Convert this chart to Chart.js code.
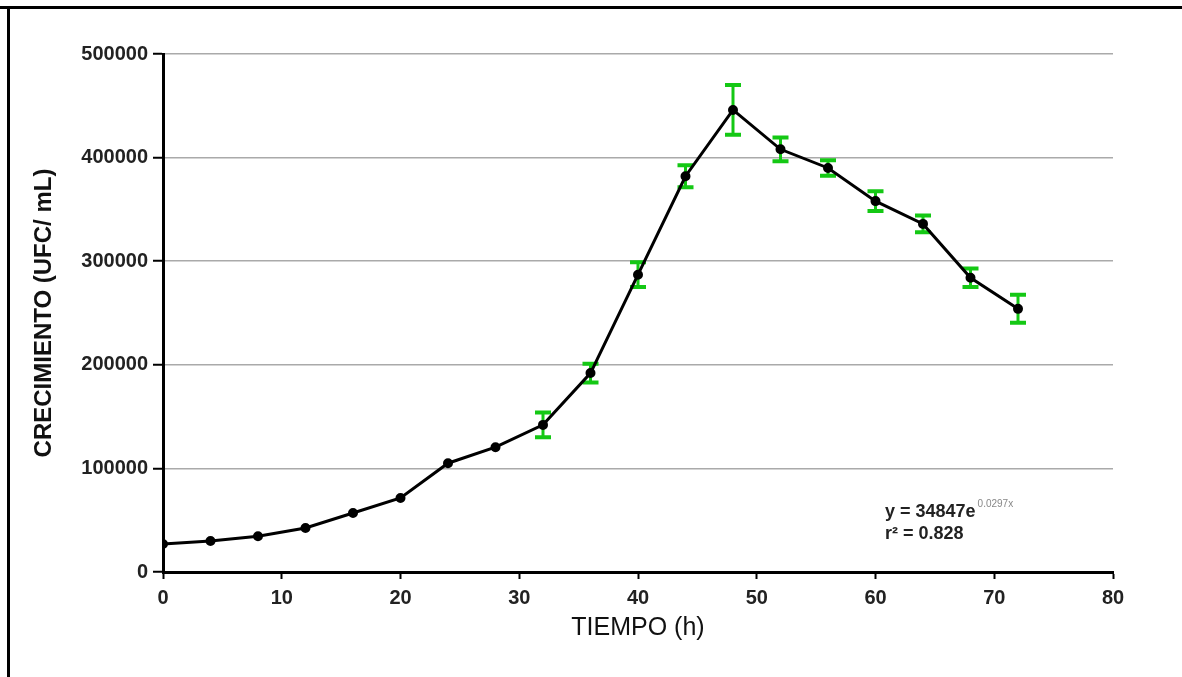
<!DOCTYPE html>
<html>
<head>
<meta charset="utf-8">
<script src="https://cdn.jsdelivr.net/npm/chart.js@4.4.0/dist/chart.umd.min.js"></script>
<style>
  html, body { margin: 0; padding: 0; background: #fff; }
  #wrap { width: 1182px; height: 677px; position: relative; }
</style>
</head>
<body>
<div id="wrap"><canvas id="growthChart" width="1182" height="677"></canvas></div>
<script>
// datos
const tiempo = [0, 4, 8, 12, 16, 20, 24, 28, 32, 36, 40, 44, 48, 52, 56, 60, 64, 68, 72];
const crecimiento = [27000, 30000, 34500, 42500, 57000, 71500, 105000, 120500, 142000, 192000,
  287000, 382000, 446000, 408000, 390000, 358000, 336000, 284000, 254000];
const errores = [0, 0, 0, 0, 0, 0, 0, 0, 12000, 9000, 12000, 10500, 24000, 11500, 7500, 9500, 8000, 9000, 13500];
const xTicks = [0, 10, 20, 30, 40, 50, 60, 70, 80];
const yTicks = [0, 100000, 200000, 300000, 400000, 500000];

const FONT = "'Liberation Sans', Arial, sans-serif";

// marco negro arriba e izquierda
const framePlugin = {
  id: 'frame',
  beforeDraw(chart) {
    const ctx = chart.ctx;
    ctx.save();
    ctx.fillStyle = '#fff';
    ctx.fillRect(0, 0, chart.width, chart.height);
    ctx.fillStyle = '#000';
    ctx.fillRect(0, 6, chart.width, 3);
    ctx.fillRect(7, 6, 3, chart.height);
    ctx.restore();
  }
};

// barras de error verdes
const errorBarsPlugin = {
  id: 'errorBars',
  beforeDatasetsDraw(chart) {
    const ctx = chart.ctx;
    const xs = chart.scales.x, ys = chart.scales.y;
    ctx.save();
    ctx.strokeStyle = '#14c814';
    tiempo.forEach((t, i) => {
      const e = errores[i];
      if (!e) return;
      const px = xs.getPixelForValue(t);
      const top = ys.getPixelForValue(crecimiento[i] + e);
      const bot = ys.getPixelForValue(crecimiento[i] - e);
      ctx.lineWidth = 3;
      ctx.beginPath();
      ctx.moveTo(px, top); ctx.lineTo(px, bot);
      ctx.stroke();
      ctx.lineWidth = 4;
      ctx.beginPath();
      ctx.moveTo(px - 8, top); ctx.lineTo(px + 8, top);
      ctx.moveTo(px - 8, bot); ctx.lineTo(px + 8, bot);
      ctx.stroke();
    });
    ctx.restore();
  }
};

// ecuacion del ajuste
const equationPlugin = {
  id: 'equation',
  afterDraw(chart) {
    const ctx = chart.ctx;
    const xs = chart.scales.x, ys = chart.scales.y;
    const x0 = xs.getPixelForValue(60.8);
    const y0 = ys.getPixelForValue(58000);
    ctx.save();
    ctx.fillStyle = '#222';
    ctx.textBaseline = 'middle';
    ctx.font = 'bold 18px ' + FONT;
    const main = 'y = 34847e';
    ctx.fillText(main, x0, y0);
    const w = ctx.measureText(main).width;
    ctx.font = '10px ' + FONT;
    ctx.fillStyle = '#888';
    ctx.fillText('0.0297x', x0 + w + 2, y0 - 8);
    ctx.fillStyle = '#222';
    ctx.font = 'bold 18px ' + FONT;
    ctx.fillText('r² = 0.828', x0, y0 + 22);
    ctx.restore();
  }
};

new Chart(document.getElementById('growthChart').getContext('2d'), {
  type: 'line',
  data: {
    datasets: [{
      label: 'Crecimiento',
      data: tiempo.map((t, i) => ({ x: t, y: crecimiento[i] })),
      borderColor: '#000',
      backgroundColor: '#000',
      borderWidth: 3,
      pointRadius: 3.5,
      pointHoverRadius: 3.5,
      tension: 0
    }]
  },
  options: {
    responsive: false,
    animation: false,
    layout: { padding: { left: 0, top: 54, right: 69, bottom: 0 } },
    plugins: {
      legend: { display: false },
      tooltip: { enabled: false }
    },
    scales: {
      x: {
        type: 'linear',
        min: 0,
        max: 80,
        afterFit: s => { s.height = 105; },
        afterBuildTicks: s => { s.ticks = xTicks.map(v => ({ value: v })); },
        border: { color: '#000', width: 3 },
        grid: { drawOnChartArea: false, drawTicks: true, tickLength: 7, tickColor: '#000', tickWidth: 2 },
        ticks: { color: '#222', padding: 7, font: { family: FONT, size: 20, weight: 'bold' } },
        title: {
          display: true,
          text: 'TIEMPO (h)',
          color: '#111',
          padding: { top: 0, bottom: 34 },
          font: { family: FONT, size: 25, weight: 'normal' }
        }
      },
      y: {
        min: 0,
        max: 500000,
        afterFit: s => { s.width = 163; },
        afterBuildTicks: s => { s.ticks = yTicks.map(v => ({ value: v })); },
        border: { color: '#000', width: 3 },
        grid: { color: '#aaa', lineWidth: 1.5, drawTicks: true, tickLength: 10, tickColor: '#000', tickWidth: 2 },
        ticks: { color: '#222', padding: 5, font: { family: FONT, size: 20, weight: 'bold' }, callback: v => String(v) },
        title: {
          display: true,
          text: 'CRECIMIENTO (UFC/ mL)',
          color: '#111',
          padding: { top: 30, bottom: 0 },
          font: { family: FONT, size: 24, weight: 'bold' }
        }
      }
    }
  },
  plugins: [framePlugin, errorBarsPlugin, equationPlugin]
});
</script>
</body>
</html>
